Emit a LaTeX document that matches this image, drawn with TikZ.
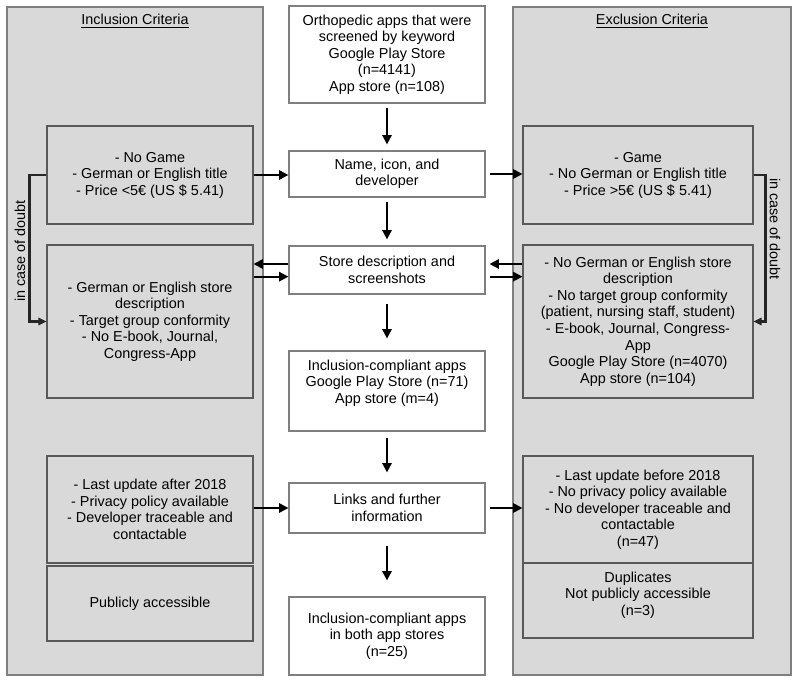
\documentclass[tikz,border=0pt]{standalone}
\usepackage{fontspec}
\setmainfont{Liberation Sans}
\usetikzlibrary{arrows.meta}

\definecolor{panelgray}{HTML}{D9D9D9}
\definecolor{panelline}{HTML}{7F7F7F}
\definecolor{boxline}{HTML}{595959}
\definecolor{loopline}{HTML}{262626}

\begin{document}
\begin{tikzpicture}[x=0.75pt, y=-0.75pt,
        every node/.style={font=\fontsize{10.8}{12.4}\selectfont, align=center, inner sep=1pt},
        panel/.style={fill=panelgray, draw=panelline, line width=1.1pt},
        critbox/.style={draw=boxline, fill=panelgray, line width=0.8pt},
        inbox/.style={critbox, minimum width=154.5pt},
        exbox/.style={critbox, minimum width=172.5pt},
        stepbox/.style={draw=panelline, fill=white, line width=0.9pt, minimum width=147pt},
        arr/.style={-{Triangle[length=7pt,width=7pt]}, line width=1.4pt},
        flow/.style={arr, shorten <=3.5pt, shorten >=4.5pt},
        doubt/.style={-{Triangle[length=6pt,width=5.5pt]}, line width=1.6pt, draw=loopline}]
        \useasboundingbox (0,0) rectangle (800,684);

        % background panels
        \draw[panel] (7,7) rectangle (263,675);
        \draw[panel] (513,7) rectangle (791,675);
        \node (inclHead) at (135,21) {\underline{Inclusion Criteria}};
        \node (exclHead) at (652,21) {\underline{Exclusion Criteria}};

        % centre column
        \node[stepbox, minimum height=72.75pt] (screen) at (387,54.5) {Orthopedic apps that were\\screened by keyword\\Google Play Store\\(n=4141)\\App store (n=108)};
        \node[stepbox, minimum height=34.5pt] (name) at (387,174) {Name, icon, and\\developer};
        \node[stepbox, minimum height=36pt] (store) at (387,270) {Store description and\\screenshots};
        \node[stepbox, minimum height=60pt] (compl) at (387,391) {Inclusion-compliant apps\\Google Play Store (n=71)\\App store (m=4)\\[2pt]};
        \node[stepbox, minimum height=37.5pt] (links) at (387,508) {Links and further\\information};
        \node[stepbox, minimum height=58.5pt] (final) at (387,636) {Inclusion-compliant apps\\in both app stores\\(n=25)};

        % inclusion criteria
        \node[inbox, minimum height=73.5pt] (inA) at (150,175) {- No Game\\- German or English title\\- Price <5€ (US \$ 5.41)};
        \node[inbox, minimum height=114.75pt] (inB) at (150,321.5) {- German or English store\\description\\- Target group conformity\\- No E-book, Journal,\\Congress-App};
        \node[inbox, minimum height=80.25pt] (inC) at (150,509.5) {- Last update after 2018\\- Privacy policy available\\- Developer traceable and\\contactable};
        \node[inbox, minimum height=56.25pt] (inD) at (150,603.5) {Publicly accessible};

        % exclusion criteria
        \node[exbox, minimum height=73.5pt] (exA) at (638,175) {- Game\\- No German or English title\\- Price >5€ (US \$ 5.41)};
        \node[exbox, minimum height=114.75pt] (exB) at (638,321.5) {- No German or English store\\description\\- No target group conformity\\(patient, nursing staff, student)\\- E-book, Journal, Congress-\\App\\Google Play Store (n=4070)\\App store (n=104)};
        \node[exbox, minimum height=80.25pt] (exC) at (638,509.5) {- Last update before 2018\\- No privacy policy available\\- No developer traceable and\\contactable\\(n=47)};
        \node[exbox, minimum height=56.25pt] (exD) at (638,600.5) {Duplicates\\Not publicly accessible\\(n=3)\\[-2pt]};

        % main flow
        \draw[flow] (screen) -- (name);
        \draw[flow] (name) -- (store);
        \draw[flow, shorten <=7pt, shorten >=9pt] (store) -- (compl);
        \draw[flow, shorten <=5pt, shorten >=7.5pt] (compl) -- (links);
        \draw[flow, shorten <=9pt, shorten >=12pt] (links) -- (final);

        % side arrows
        \draw[arr] (inA.east) -- (inA.east -| name.west);
        \draw[arr, shorten <=3pt] (name.east) -- (name.east -| exA.west);
        \draw[arr] ([yshift=4.5pt]store.west) -- ([yshift=4.5pt]store.west -| inB.east);
        \draw[arr] ([yshift=-5pt]store.west -| inB.east) -- ([yshift=-5pt]store.west);
        \draw[arr, shorten >=3pt] ([yshift=4.5pt]store.east -| exB.west) -- ([yshift=4.5pt]store.east);
        \draw[arr, shorten <=3pt] ([yshift=-5pt]store.east) -- ([yshift=-5pt]store.east -| exB.west);
        \draw[arr] (links.west -| inC.east) -- (links.west);
        \draw[arr, shorten <=3pt] (links.east) -- (links.east -| exC.west);

        % in case of doubt
        \draw[doubt] (inA.west) -- ++(-17,0) |- (inB.west);
        \node[rotate=90] (doubtL) at (20,251) {in case of doubt};
        \draw[doubt] (exA.east) -- ++(12,0) |- (exB.east);
        \node[rotate=-90] (doubtR) at (775,229) {in case of doubt};
    \end{tikzpicture}
\end{document}
